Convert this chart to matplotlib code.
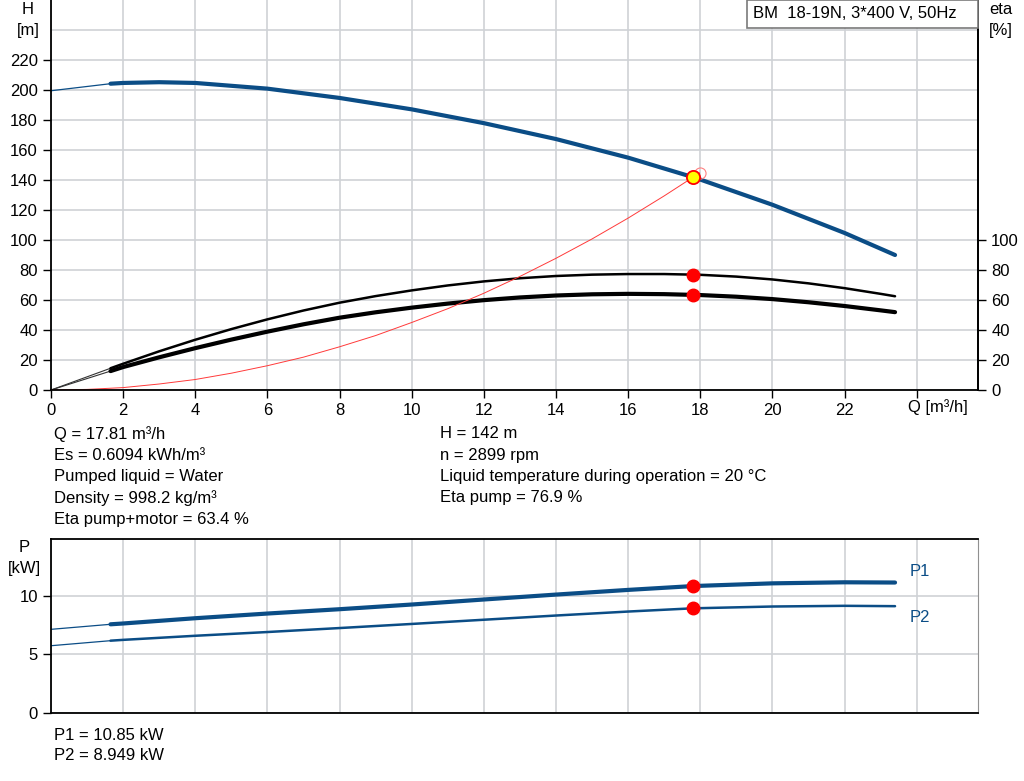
import matplotlib
matplotlib.use("Agg")
import matplotlib.pyplot as plt
import numpy as np

plt.rcParams['font.family'] = ['Liberation Sans', 'DejaVu Sans']
plt.rcParams['font.size'] = 12

W, H = 1024, 781
BLUE = "#0b4d86"
GRID = "#cfd2d6"

# head curve (Q in m3/h, H in m)
q_h = [0, 1.65, 2, 3, 4, 6, 8, 10, 12, 14, 16, 17.81, 18, 20, 22, 23.4]
head = [199.5, 204.2, 204.7, 205.2, 204.7, 200.9, 194.7, 187.1, 177.9, 167.3, 154.9, 141.8, 140.3,
        123.5, 104.7, 90.0]

# efficiency curves (%)
q_eta = [0, 1.65, 2, 3, 4, 5, 6, 7, 8, 9, 10, 11, 12, 13, 14, 15, 16, 17, 17.81, 18, 19, 20, 21, 22,
         23, 23.4]
eta_pump = [0, 14.5, 17.5, 25.8, 33.5, 40.6, 47.1, 53.0, 58.2, 62.6, 66.4, 69.7, 72.4, 74.5, 76.0,
            76.9, 77.3, 77.3, 76.9, 76.8, 75.6, 73.7, 71.1, 67.9, 64.1, 62.5]
eta_total = [0, 12.6, 15.3, 21.8, 27.9, 33.6, 38.9, 43.8, 48.2, 51.8, 54.9, 57.6, 59.9, 61.7, 63.0,
             63.8, 64.1, 63.9, 63.4, 63.3, 62.2, 60.6, 58.5, 56.0, 53.1, 51.9]

# system curve
q_sys = [0, 1, 2, 3, 4, 5, 6, 7, 8, 9, 10, 11, 12, 13, 14, 15, 16, 17, 17.81, 17.98]
h_sys = [0, 0.4, 1.6, 4.0, 7.0, 11.2, 16.2, 21.9, 28.8, 36.3, 45.0, 54.2, 64.5, 75.7, 87.8, 100.7,
         114.6, 129.4, 142.0, 144.7]

# power curves (kW)
q_p = [0, 1.65, 2, 4, 6, 8, 10, 12, 14, 16, 17.81, 18, 20, 22, 23.4]
p1 = [7.15, 7.58, 7.65, 8.1, 8.5, 8.87, 9.27, 9.7, 10.12, 10.52, 10.85, 10.87, 11.08, 11.17, 11.15]
p2 = [5.75, 6.18, 6.25, 6.6, 6.92, 7.26, 7.61, 7.97, 8.33, 8.67, 8.949, 8.96, 9.1, 9.16, 9.13]

q_op = 17.81
h_op = 142
eta_pump_op = 76.9
eta_total_op = 63.4
p1_op = 10.85
p2_op = 8.949
q_start = 1.65

info_left = ["Q = 17.81 m\u00b3/h", "Es = 0.6094 kWh/m\u00b3", "Pumped liquid = Water",
             "Density = 998.2 kg/m\u00b3", "Eta pump+motor = 63.4 %"]
info_right = ["H = 142 m", "n = 2899 rpm", "Liquid temperature during operation = 20 \u00b0C",
              "Eta pump = 76.9 %"]
info_power = ["P1 = 10.85 kW", "P2 = 8.949 kW"]
title_box = "BM  18-19N, 3*400 V, 50Hz"


def fx(px):
    return px / W


def fy(py):
    return 1 - py / H


def split(q, v):
    q = np.array(q)
    v = np.array(v)
    thin = q <= q_start
    thick = q >= q_start
    return q[thin], v[thin], q[thick], v[thick]


fig = plt.figure(figsize=(W / 100, H / 100), dpi=100)

# top axes: head + efficiency
ax = fig.add_axes([fx(51), fy(390), fx(978) - fx(51), 390 / H])
ax.set_xlim(0, 25.7)
ax.set_ylim(0, 260)
ax.set_xticks(range(0, 25, 2))
ax.set_xticklabels([str(v) for v in range(0, 23, 2)] + [""])
ax.set_yticks(range(0, 221, 20))
ax.grid(True, color=GRID, lw=1.2)
ax.axhline(240, color=GRID, lw=1.2)
ax.set_axisbelow(True)
ax.spines['top'].set_visible(False)
for s in ['left', 'bottom', 'right']:
    ax.spines[s].set_linewidth(1.3)
ax.tick_params(length=6, width=1, labelsize=12)

a, b, c, d = split(q_h, head)
ax.plot(a, b, color=BLUE, lw=0.9)
ax.plot(c, d, color=BLUE, lw=3, solid_capstyle='round')

a, b, c, d = split(q_eta, eta_pump)
ax.plot(a, b, color="#333333", lw=0.8)
ax.plot(c, d, color="black", lw=1.8, solid_capstyle='round')
a, b, c, d = split(q_eta, eta_total)
ax.plot(a, b, color="#333333", lw=0.8)
ax.plot(c, d, color="black", lw=3, solid_capstyle='round')

ax.plot(q_sys, h_sys, color="#ff3a3a", lw=0.7)
ax.plot(q_sys[-1], h_sys[-1], 'o', ms=8, mfc='none', mec="#ff8080", mew=0.8)
ax.plot(q_op, h_op, 'o', ms=9.5, mfc="#ffff00", mec="#ff0000", mew=1.3)
ax.plot([q_op, q_op], [eta_pump_op, eta_total_op], 'o', ms=9, color="#ff0000", ls='none')

ax2 = ax.twinx()
ax2.set_ylim(0, 260)
ax2.set_yticks(range(0, 101, 20))
ax2.tick_params(length=6, width=1, labelsize=12)
for s in ['top', 'left', 'bottom']:
    ax2.spines[s].set_visible(False)
ax2.spines['right'].set_linewidth(1.3)

# bottom axes: power
bx = fig.add_axes([fx(51), fy(713), fx(978) - fx(51), (713 - 539) / H])
bx.set_xlim(0, 25.7)
bx.set_ylim(0, 14.87)
bx.set_xticks(range(0, 25, 2))
bx.set_xticklabels([])
bx.tick_params(axis='x', length=0)
bx.set_yticks([0, 5, 10])
bx.tick_params(axis='y', length=6, width=1, labelsize=12)
bx.grid(True, color=GRID, lw=1.2)
bx.set_axisbelow(True)
for s in ['left', 'bottom', 'top']:
    bx.spines[s].set_linewidth(1.3)
bx.spines['right'].set_color("#909090")

a, b, c, d = split(q_p, p1)
bx.plot(a, b, color=BLUE, lw=0.9)
bx.plot(c, d, color=BLUE, lw=3, solid_capstyle='round')
a, b, c, d = split(q_p, p2)
bx.plot(a, b, color=BLUE, lw=0.9)
bx.plot(c, d, color=BLUE, lw=1.8, solid_capstyle='round')
bx.plot([q_op, q_op], [p1_op, p2_op], 'o', ms=9, color="#ff0000", ls='none')

# texts
fig.text(fx(28), fy(10), "H", ha='center', va='center')
fig.text(fx(28), fy(31), "[m]", ha='center', va='center')
fig.text(fx(1001), fy(10), "eta", ha='center', va='center')
fig.text(fx(1001), fy(31), "[%]", ha='center', va='center')
fig.text(fx(908), fy(407), "Q [m\u00b3/h]", ha='left', va='center')
fig.text(fx(24), fy(548), "P", ha='center', va='center')
fig.text(fx(24), fy(569), "[kW]", ha='center', va='center')
fig.text(fx(910), fy(572), "P1", ha='left', va='center', color=BLUE)
fig.text(fx(910), fy(618), "P2", ha='left', va='center', color=BLUE)

for i, t in enumerate(info_left):
    fig.text(fx(54), fy(434 + i * 21.3), t, ha='left', va='center')
for i, t in enumerate(info_right):
    fig.text(fx(440), fy(434 + i * 21.3), t, ha='left', va='center')
for i, t in enumerate(info_power):
    fig.text(fx(54), fy(735 + i * 21), t, ha='left', va='center')

box = plt.Rectangle((fx(747), fy(28)), fx(978) - fx(747), 28 / H, transform=fig.transFigure,
                    facecolor='white', edgecolor='#7a7a7a', lw=1.2, zorder=5)
fig.patches.append(box)
fig.text(fx(753), fy(14), title_box, ha='left', va='center', zorder=6)

fig.savefig("out.png", dpi=100)
